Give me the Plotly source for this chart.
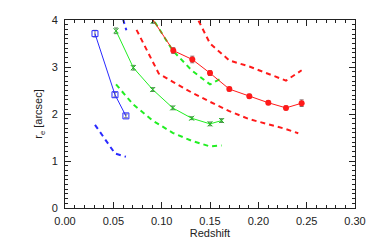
import plotly.graph_objects as go

# Blue sample
blue_z = [0.031, 0.0517, 0.063]
blue_re = [3.71, 2.41, 1.96]
blue_err = [0.07, 0.05, 0.04]
blue_up_z = [0.031, 0.0517, 0.0635]
blue_up = [5.2, 4.6, 3.78]
blue_lo = [1.77, 1.16, 1.09]

# Green sample
green_z = [0.0528, 0.0707, 0.0907, 0.1114, 0.131, 0.150, 0.162]
green_re = [3.77, 2.985, 2.52, 2.13, 1.91, 1.79, 1.86]
green_err = [0.06, 0.05, 0.04, 0.04, 0.03, 0.04, 0.04]
green_up_z = [0.0707, 0.0907, 0.1114, 0.131, 0.150, 0.162]
green_up = [4.8, 4.03, 3.35, 2.93, 2.63, 2.76]
green_lo = [2.63, 2.2, 1.86, 1.6, 1.43, 1.31, 1.33]
green_top_z = [0.0912]
green_top = [3.98]

# Red sample
red_z = [0.0805, 0.112, 0.1317, 0.150, 0.170, 0.1907, 0.2103, 0.2286, 0.2448]
red_re = [4.33, 3.35, 3.16, 2.87, 2.53, 2.38, 2.24, 2.13, 2.23]
red_err = [0.06, 0.06, 0.07, 0.05, 0.04, 0.04, 0.04, 0.04, 0.07]
red_up_z = [0.112, 0.1317, 0.150, 0.170, 0.1907, 0.2103, 0.2286, 0.2448]
red_up = [5.0, 4.25, 3.5, 3.14, 3.01, 2.86, 2.71, 2.93]
red_lo_z = [0.074, 0.097, 0.112, 0.1317, 0.150, 0.170, 0.1907, 0.2103, 0.2286, 0.2413]
red_lo = [3.79, 2.86, 2.68, 2.45, 2.26, 2.06, 1.89, 1.78, 1.68, 1.59]

x_ticks = [0.00, 0.05, 0.10, 0.15, 0.20, 0.25, 0.30]
x_labels = ["0.00", "0.05", "0.10", "0.15", "0.20", "0.25", "0.30"]
y_ticks = [0, 1, 2, 3, 4]

BLUE = "#2a2aff"
GREEN = "#22ee22"
RED = "#ff1a1a"
DASH = "5px,4px"
FONT = "Liberation Sans, Arial, sans-serif"

fig = go.Figure()

def dashed(x, y, c):
    fig.add_trace(go.Scatter(x=x, y=y, mode="lines",
                             line=dict(color=c, width=2, dash=DASH),
                             hoverinfo="skip", showlegend=False))

dashed(blue_up_z, blue_up, BLUE)
dashed(blue_z, blue_lo, BLUE)
dashed(green_up_z, green_up, GREEN)
dashed(green_z, green_lo, GREEN)
dashed(red_up_z, red_up, RED)
dashed(red_lo_z, red_lo, RED)

fig.add_trace(go.Scatter(
    x=blue_z, y=blue_re, mode="lines+markers",
    line=dict(color=BLUE, width=1),
    marker=dict(symbol="square-open", size=6, color=BLUE, line=dict(width=1, color=BLUE)),
    error_y=dict(type="data", array=blue_err, color="#777788", thickness=1, width=2),
    showlegend=False))

fig.add_trace(go.Scatter(
    x=green_z, y=green_re, mode="lines+markers",
    line=dict(color=GREEN, width=1),
    marker=dict(symbol="x-thin-open", size=5, color="#22bb22", line=dict(width=1, color="#22bb22")),
    error_y=dict(type="data", array=green_err, color="#558855", thickness=1, width=2),
    showlegend=False))

fig.add_trace(go.Scatter(
    x=green_top_z, y=green_top, mode="markers",
    marker=dict(symbol="x-thin-open", size=5, color="#22bb22", line=dict(width=1, color="#22bb22")),
    error_y=dict(type="data", array=[0.05], color="#558855", thickness=1, width=2),
    showlegend=False))

fig.add_trace(go.Scatter(
    x=red_z, y=red_re, mode="lines+markers",
    line=dict(color=RED, width=1),
    marker=dict(symbol="circle", size=6, color=RED),
    error_y=dict(type="data", array=red_err, color="#886666", thickness=1, width=2),
    showlegend=False))

axis_common = dict(showline=True, linecolor="#222222", linewidth=1, mirror="allticks",
                   ticks="inside", ticklen=6, tickwidth=1, tickcolor="#222222",
                   showgrid=False, zeroline=False, automargin=False,
                   tickfont=dict(family=FONT, size=11, color="#222222"))

fig.update_xaxes(range=[0, 0.30], tickvals=x_ticks, ticktext=x_labels,
                 ticklabelstandoff=3,
                 minor=dict(dtick=0.01, ticks="inside", ticklen=3, tickcolor="#222222", showgrid=False),
                 title=dict(text="Redshift", standoff=2,
                            font=dict(family=FONT, size=11, color="#222222")),
                 **axis_common)
fig.update_yaxes(range=[0, 4], tickvals=y_ticks,
                 ticklabelstandoff=4,
                 minor=dict(dtick=0.1, ticks="inside", ticklen=3, tickcolor="#222222", showgrid=False),
                 title=dict(text="r<sub>e</sub> [arcsec]", standoff=6,
                            font=dict(family=FONT, size=11, color="#222222")),
                 **axis_common)

fig.update_layout(width=374, height=249, margin=dict(l=57, r=27, t=12, b=49),
                  plot_bgcolor="white", paper_bgcolor="white", showlegend=False)

fig.write_html("out.html")
